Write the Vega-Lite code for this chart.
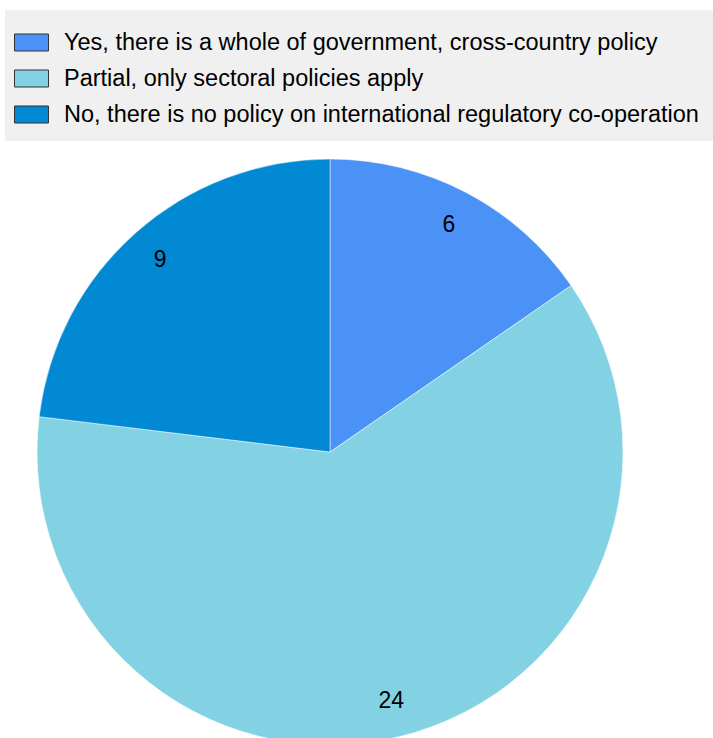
{
  "$schema": "https://vega.github.io/schema/vega-lite/v6.json",
  "autosize": "none",
  "padding": {"left": 0, "top": 0, "right": 53, "bottom": 0},
  "width": 660,
  "height": 904,
  "background": "white",
  "data": {"values": [
    {"category": "Yes, there is a whole of government, cross-country policy", "value": 6, "order": 1},
    {"category": "Partial, only sectoral policies apply", "value": 24, "order": 2},
    {"category": "No, there is no policy on international regulatory co-operation", "value": 9, "order": 3}
  ]},
  "encoding": {
    "theta": {"field": "value", "type": "quantitative", "stack": true},
    "order": {"field": "order", "type": "ordinal"}
  },
  "layer": [
    {
      "mark": {"type": "arc", "outerRadius": 293, "stroke": "white", "strokeWidth": 0.5},
      "encoding": {
        "color": {
          "field": "category", "type": "nominal",
          "sort": ["Yes, there is a whole of government, cross-country policy", "Partial, only sectoral policies apply", "No, there is no policy on international regulatory co-operation"],
          "scale": {"domain": ["Yes, there is a whole of government, cross-country policy", "Partial, only sectoral policies apply", "No, there is no policy on international regulatory co-operation"], "range": ["#4a92f5", "#83d2e4", "#0289d3"]},
          "legend": {
            "title": null,
            "orient": "none",
            "legendX": 5,
            "legendY": 10,
            "fillColor": "#f0f0f0",
            "padding": 15,
            "symbolType": "M-1,-0.5H1V0.5H-1Z",
            "symbolSize": 1156,
            "symbolStrokeColor": "#333333",
            "symbolStrokeWidth": 1,
            "symbolOpacity": 1,
            "symbolOffset": -6,
            "labelFont": "Liberation Sans",
            "labelFontSize": 23.5,
            "labelColor": "#000000",
            "labelLimit": 1000,
            "labelOffset": 15,
            "rowPadding": 7
          }
        }
      }
    },
    {
      "mark": {"type": "text", "radius": 256, "font": "Liberation Sans", "fontSize": 23, "color": "#000000"},
      "encoding": {"text": {"field": "value", "type": "quantitative"}}
    }
  ],
  "config": {"view": {"stroke": null}}
}
